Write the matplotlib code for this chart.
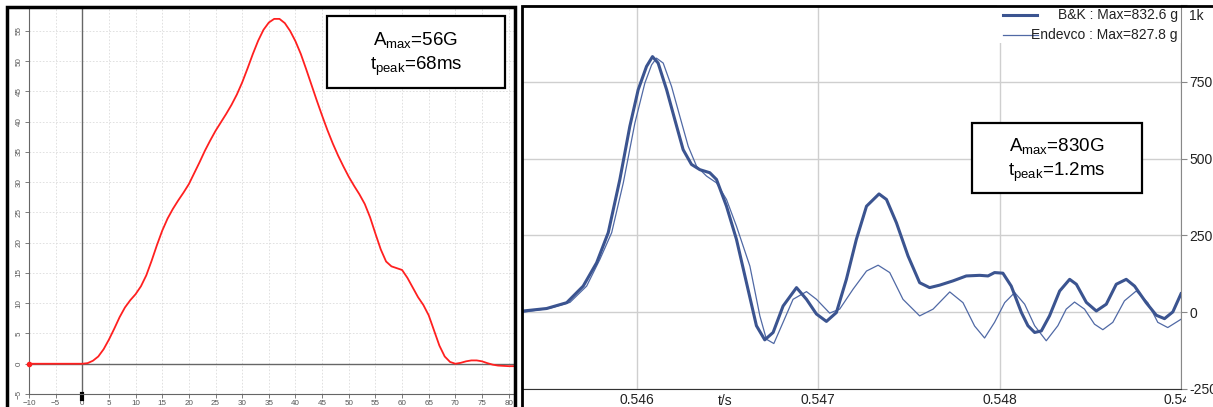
import matplotlib.pyplot as plt
from matplotlib.patches import Rectangle
from matplotlib.lines import Line2D
from matplotlib.transforms import ScaledTranslation, Bbox, TransformedBbox

# left panel: drop pulse (time in ms, acceleration in G)
pulse_t = [-10, -5, 0, 1, 2, 3, 4, 5, 6, 7, 8, 9, 10, 11, 12, 13, 14, 15, 16, 17, 18, 19,
           20, 21, 22, 23, 24, 25, 26, 27, 28, 29, 30, 31, 32, 33, 34, 35, 36, 37, 38, 39,
           40, 41, 42, 43, 44, 45, 46, 47, 48, 49, 50, 51, 52, 53, 54, 55, 56, 57, 58, 59,
           60, 61, 62, 63, 64, 65, 66, 67, 68, 69, 70, 71, 72, 73, 74, 75, 76, 77, 78, 79,
           80, 81]
pulse_g = [0, 0, 0, 0.1, 0.5, 1.2, 2.4, 4.0, 5.8, 7.7, 9.3, 10.5, 11.5, 12.8, 14.6, 17.0,
           19.6, 22.0, 24.0, 25.6, 27.0, 28.3, 29.7, 31.5, 33.3, 35.2, 36.9, 38.5, 39.9,
           41.3, 42.8, 44.5, 46.5, 48.8, 51.2, 53.4, 55.2, 56.4, 57.0, 57.0, 56.3, 55.0,
           53.3, 51.2, 48.7, 46.1, 43.5, 41.0, 38.6, 36.4, 34.4, 32.6, 30.9, 29.4, 28.0,
           26.4, 24.2, 21.5, 18.9, 16.9, 16.1, 15.8, 15.5, 14.2, 12.6, 11.0, 9.7, 8.0,
           5.5, 3.0, 1.2, 0.3, 0.0, 0.15, 0.4, 0.55, 0.55, 0.4, 0.1, -0.15, -0.3, -0.35,
           -0.4, -0.4]

# right panel: two accelerometers (ms after t=0.546 s, g)
bk_t = [-0.626, -0.498, -0.387, -0.296, -0.222, -0.158, -0.094, -0.039, 0.007, 0.053,
        0.086, 0.117, 0.164, 0.209, 0.255, 0.301, 0.347, 0.402, 0.439, 0.494, 0.549,
        0.623, 0.659, 0.705, 0.751, 0.806, 0.880, 0.935, 0.990, 1.045, 1.100, 1.155,
        1.210, 1.266, 1.335, 1.376, 1.431, 1.495, 1.559, 1.614, 1.669, 1.743, 1.816,
        1.890, 1.936, 1.972, 2.018, 2.064, 2.120, 2.156, 2.193, 2.230, 2.275, 2.331,
        2.386, 2.423, 2.478, 2.533, 2.588, 2.643, 2.698, 2.744, 2.808, 2.864, 2.909,
        2.955, 3.0]
bk_g = [4, 12, 31, 85, 161, 259, 432, 605, 724, 800, 832, 811, 724, 627, 529, 481, 464,
        454, 432, 345, 237, 48, -44, -90, -66, 20, 80, 42, -6, -30, -1, 107, 237, 345, 385,
        367, 291, 183, 96, 80, 88, 102, 118, 120, 118, 129, 127, 85, -1, -44, -66, -61,
        -12, 69, 107, 91, 32, 4, 26, 91, 107, 85, 31, -10, -21, 1, 60]
endevco_t = [-0.626, -0.479, -0.369, -0.277, -0.204, -0.139, -0.075, -0.011, 0.044, 0.081,
             0.108, 0.145, 0.191, 0.237, 0.283, 0.329, 0.384, 0.439, 0.494, 0.549, 0.623,
             0.678, 0.714, 0.755, 0.806, 0.861, 0.935, 0.990, 1.063, 1.118, 1.192, 1.266,
             1.330, 1.394, 1.467, 1.559, 1.633, 1.725, 1.798, 1.862, 1.917, 1.972, 2.028,
             2.083, 2.138, 2.193, 2.257, 2.321, 2.367, 2.413, 2.468, 2.523, 2.569, 2.624,
             2.688, 2.753, 2.817, 2.872, 2.927, 3.0]
endevco_g = [0, 13, 32, 85, 172, 259, 421, 616, 746, 805, 827, 811, 735, 637, 540, 475,
             443, 421, 367, 280, 150, -12, -88, -102, -33, 42, 67, 42, -3, 10, 75, 134,
             153, 129, 42, -12, 10, 66, 31, -45, -84, -33, 31, 64, 26, -44, -93, -44, 10,
             33, 10, -39, -57, -33, 37, 69, 31, -33, -50, -23]

left_xticks = list(range(-10, 81, 5))
left_yticks = list(range(-5, 56, 5))
right_xticks = [0.546, 0.547, 0.548, 0.549]
right_yticks = [-250, 0, 250, 500, 750, 1000]
right_yticklabels = ['-250', '0', '250', '500', '750', '1k']

plt.rcParams['font.family'] = ['Liberation Sans', 'DejaVu Sans']
plt.rcParams['mathtext.fontset'] = 'custom'
plt.rcParams['mathtext.rm'] = 'Liberation Sans'

W, H = 1213, 407
fig = plt.figure(figsize=(W / 100, H / 100), dpi=100)


def px_box(x0, y0, x1, y1):
    return [x0 / W, 1 - y1 / H, (x1 - x0) / W, (y1 - y0) / H]


# ---- left panel ----
ax1 = fig.add_axes(px_box(29, 8, 514, 394))
ax1.plot(pulse_t, pulse_g, color='#ff2020', lw=1.3, zorder=3)
ax1.plot(pulse_t[:1], pulse_g[:1], 'o', color='#ff2020', ms=3, clip_on=False, zorder=3)
ax1.axhline(0, color='#666666', lw=1, zorder=2)
ax1.axvline(0, color='#666666', lw=1, zorder=2)
ax1.set_xlim(-10, 81)
ax1.set_ylim(-5, 58.8)
ax1.set_xticks(left_xticks)
ax1.set_yticks(left_yticks)
ax1.grid(True, color='#dcdcdc', lw=0.6, linestyle=(0, (2, 2)))
ax1.set_axisbelow(True)
for s in ['top', 'right']:
    ax1.spines[s].set_visible(False)
for s in ['left', 'bottom']:
    ax1.spines[s].set_color('#666666')
ax1.tick_params(axis='both', colors='#666666', labelcolor='#555555', labelsize=5.8,
                length=3, width=0.6, pad=1.5)
plt.setp(ax1.get_yticklabels(), rotation=90, va='center')
ax1.axvline(0, ymin=-0.012, ymax=0, color='black', lw=3, clip_on=False)

# ---- right panel ----
ax2 = fig.add_axes(px_box(523, 5, 1181, 389))
ax2.plot([0.546 + t / 1000 for t in endevco_t], endevco_g, color='#5069a5', lw=0.9,
         zorder=3, solid_joinstyle='round')
ax2.plot([0.546 + t / 1000 for t in bk_t], bk_g, color='#3b5490', lw=2.2, zorder=4,
         solid_joinstyle='round')
ax2.set_xlim(0.545372, 0.549)
ax2.set_ylim(-247, 1000)
ax2.set_xticks(right_xticks)
ax2.set_xticklabels([f'{v:.3f}' for v in right_xticks], fontsize=10)
ax2.set_yticks(right_yticks)
ax2.set_yticklabels(right_yticklabels, fontsize=10)
ax2.yaxis.tick_right()
ax2.grid(True, color='#cfcfcf', lw=1)
ax2.set_axisbelow(True)
for s in ['top', 'left']:
    ax2.spines[s].set_visible(False)
ax2.spines['right'].set_color('#888888')
ax2.spines['bottom'].set_color('#333333')
ax2.tick_params(axis='y', colors='#888888', labelcolor='#222222', length=4, pad=2)
ax2.tick_params(axis='x', length=0, labelcolor='#222222', pad=3)
ax2.text(0.546485, -0.012, 't/s', transform=ax2.get_xaxis_transform(), ha='center',
         va='top', fontsize=10, color='#222222')

# "1k" sits just below the top edge, last x label is cut by the axis
top_lbl = ax2.get_yticklabels()[-1]
top_lbl.set_va('top')
top_lbl.set_transform(top_lbl.get_transform() + ScaledTranslation(0, -3 / 72, fig.dpi_scale_trans))
last_x = ax2.get_xticklabels()[-1]
last_x.set_clip_box(TransformedBbox(Bbox.from_extents(0, -0.2, 1.008, 1), ax2.transAxes))
last_x.set_clip_on(True)

# legend, right aligned text like the original software
ax2.add_patch(Rectangle((0.72, 0.9), 0.28, 0.1, transform=ax2.transAxes,
                        facecolor='white', edgecolor='none', zorder=2.5))
ax2.add_line(Line2D([0.7295, 0.781], [0.974, 0.974], transform=ax2.transAxes,
                    color='#3b5490', lw=2.2, zorder=5))
ax2.add_line(Line2D([0.7295, 0.783], [0.922, 0.922], transform=ax2.transAxes,
                    color='#5069a5', lw=0.9, zorder=5))
ax2.text(0.9954, 0.974, 'B&K : Max=832.6 g', transform=ax2.transAxes, ha='right',
         va='center', fontsize=10, color='#222222', zorder=5)
ax2.text(0.9954, 0.922, 'Endevco : Max=827.8 g', transform=ax2.transAxes, ha='right',
         va='center', fontsize=10, color='#222222', zorder=5)

# ---- frames and annotation boxes (figure pixels) ----
fig.patches.append(Rectangle((7 / W, -0.1), (515 - 7) / W, 1.1 - 7 / H,
                             transform=fig.transFigure, fill=False, lw=2.5,
                             edgecolor='black', zorder=10))
fig.patches.append(Rectangle((522 / W, -0.1), 1.0, 1.1 - 6 / H,
                             transform=fig.transFigure, fill=False, lw=2.0,
                             edgecolor='black', zorder=10))

notes = [((327, 16, 505, 88), r'$\mathregular{A_{max}}$=56G', r'$\mathregular{t_{peak}}$=68ms'),
         ((972, 123, 1142, 193), r'$\mathregular{A_{max}}$=830G', r'$\mathregular{t_{peak}}$=1.2ms')]
for (x0, y0, x1, y1), l1, l2 in notes:
    fig.patches.append(Rectangle((x0 / W, 1 - y1 / H), (x1 - x0) / W, (y1 - y0) / H,
                                 transform=fig.transFigure, facecolor='white',
                                 edgecolor='black', lw=1.6, zorder=9))
    cx = (x0 + x1) / 2 / W
    fig.text(cx, 1 - (y0 + 0.33 * (y1 - y0)) / H, l1, ha='center', va='center',
             fontsize=13.5, zorder=11)
    fig.text(cx, 1 - (y0 + 0.70 * (y1 - y0)) / H, l2, ha='center', va='center',
             fontsize=13.5, zorder=11)

fig.savefig('out.png', dpi=100)
